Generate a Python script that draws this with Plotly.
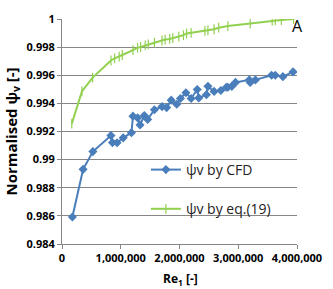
import plotly.graph_objects as go

cfd_re = [177e3, 359e3, 526e3, 833e3, 859e3, 938e3, 1042e3, 1182e3, 1208e3, 1287e3, 1328e3,
          1401e3, 1458e3, 1573e3, 1703e3, 1781e3, 1859e3, 1953e3, 2016e3, 2109e3, 2198e3,
          2302e3, 2328e3, 2458e3, 2484e3, 2589e3, 2703e3, 2797e3, 2823e3, 2891e3, 2953e3,
          3188e3, 3203e3, 3292e3, 3567e3, 3630e3, 3760e3, 3932e3]
cfd_psi = [0.98592, 0.98931, 0.99057, 0.99171, 0.99121, 0.99120, 0.99155, 0.99192, 0.99309, 0.99297, 0.99247,
           0.99313, 0.99286, 0.99355, 0.99377, 0.99370, 0.99423, 0.99394, 0.99435, 0.99476, 0.99435,
           0.99499, 0.99439, 0.99462, 0.99521, 0.99485, 0.99492, 0.99515, 0.99515, 0.99521, 0.99549,
           0.99567, 0.99549, 0.99567, 0.99600, 0.99600, 0.99590, 0.99624]

eq_re = [167e3, 339e3, 521e3, 833e3, 896e3, 974e3, 1026e3, 1208e3, 1286e3, 1339e3, 1417e3,
         1469e3, 1573e3, 1703e3, 1755e3, 1833e3, 1886e3, 1989e3, 2067e3, 2120e3, 2198e3,
         2432e3, 2484e3, 2589e3, 2667e3, 2823e3, 3203e3, 3578e3, 3630e3, 3734e3, 3942e3]
eq_psi = [0.99256, 0.99485, 0.99583, 0.99705, 0.99720, 0.99732, 0.99744, 0.99778, 0.99796, 0.99801, 0.99812,
          0.99819, 0.99832, 0.99847, 0.99854, 0.99858, 0.99865, 0.99874, 0.99885, 0.99897, 0.99902,
          0.99915, 0.99920, 0.99927, 0.99938, 0.99950, 0.99968, 0.99988, 0.99991, 0.99993, 1.00000]

x_ticks = [0, 1000000, 2000000, 3000000, 4000000]
y_ticks = [0.984, 0.986, 0.988, 0.99, 0.992, 0.994, 0.996, 0.998, 1]

font_family = "Open Sans, Liberation Sans, sans-serif"
blue = "#4A7EBB"
green = "#92D050"

fig = go.Figure()
fig.add_trace(go.Scatter(
    x=cfd_re, y=cfd_psi, mode="lines+markers", name="ψv by CFD", legendgroup="a",
    line=dict(color=blue, width=2),
    marker=dict(symbol="diamond", size=7, color=blue),
))
fig.add_trace(go.Scatter(
    x=eq_re, y=eq_psi, mode="lines+markers", name="ψv by eq.(19)", legendgroup="b",
    line=dict(color=green, width=2),
    marker=dict(symbol="line-ns", size=7, line=dict(color=green, width=1.2)),
))

fig.update_layout(
    width=333, height=289,
    margin=dict(l=61, r=16, t=11, b=45),
    paper_bgcolor="white", plot_bgcolor="white",
    font=dict(family=font_family, color="#000000"),
    showlegend=True,
    legend=dict(x=0.357, y=0.40, xanchor="left", yanchor="top",
                bgcolor="rgba(0,0,0,0)", borderwidth=0,
                font=dict(size=14, family=font_family, color="#222222"),
                tracegroupgap=18, itemwidth=30),
    xaxis=dict(range=[0, 4000000], tickvals=x_ticks, tickformat=",d",
               ticklabeloverflow="allow",
               showgrid=False, zeroline=False,
               showline=True, linecolor="#868686", linewidth=1,
               ticks="outside", ticklen=4, tickcolor="#868686",
               tickfont=dict(size=11, family=font_family, weight="bold")),
    yaxis=dict(range=[0.984, 1.0], tickvals=y_ticks,
               showgrid=True, gridcolor="#868686", gridwidth=1, zeroline=False,
               showline=True, linecolor="#868686", linewidth=1,
               ticks="outside", ticklen=4, tickcolor="#868686",
               tickfont=dict(size=11, family=font_family, weight="bold"),
               title=dict(text="Normalised ψ<sub>v</sub> [-]", font=dict(size=15, weight="bold"), standoff=5)),
    annotations=[
        dict(text="A", xref="paper", yref="paper", x=1.0, y=0.97,
             xanchor="center", yanchor="middle", showarrow=False,
             font=dict(size=16, family=font_family, color="#000000")),
        dict(text="Re<sub>1</sub> [-]", xref="paper", yref="paper", x=0.504, y=-0.155,
             xanchor="center", yanchor="middle", showarrow=False,
             font=dict(size=12, family=font_family, color="#000000", weight="bold")),
    ],
)

fig.write_html("out.html")
